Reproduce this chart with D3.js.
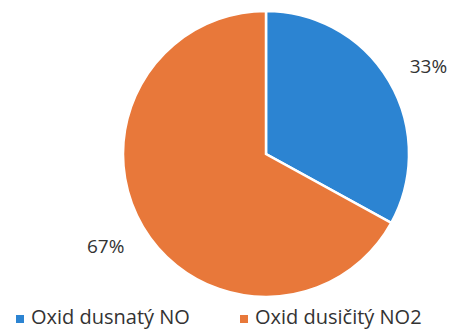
<!DOCTYPE html>
<html>
<head>
<meta charset="utf-8">
<script src="https://cdn.jsdelivr.net/npm/d3@7"></script>
<style>
  body { margin: 0; background: #fff; }
  text { font-family: "Open Sans", sans-serif; fill: #333; }
</style>
</head>
<body>
<svg id="chart" width="449" height="333"></svg>
<script>
const categories = ["Oxid dusnatý NO", "Oxid dusičitý NO2"];
const values = [33, 67];
const labels = ["33%", "67%"];
const colors = ["#2c84d2", "#e8783a"];

const svg = d3.select("#chart");
const cx = 266, cy = 154, radius = 143;

const pie = d3.pie().sort(null).value(d => d.value);
const arc = d3.arc().innerRadius(0).outerRadius(radius);
const labelArc = d3.arc().innerRadius(184).outerRadius(184);

const data = categories.map((c, i) => ({ name: c, value: values[i], label: labels[i], color: colors[i] }));
const arcs = pie(data);

const g = svg.append("g").attr("transform", `translate(${cx},${cy})`);

g.selectAll("path")
    .data(arcs)
    .enter()
    .append("path")
    .attr("d", arc)
    .attr("fill", d => d.data.color)
    .attr("stroke", "white")
    .attr("stroke-width", 2.5);

// percentage labels outside the slices
g.selectAll("text.lbl")
    .data(arcs)
    .enter()
    .append("text")
    .attr("class", "lbl")
    .attr("transform", (d, i) => {
        const p = labelArc.centroid(d);
        return `translate(${p[0] + (i === 0 ? 4 : -2)},${p[1] + (i === 0 ? 8 : 0)})`;
    })
    .attr("text-anchor", "middle")
    .attr("dominant-baseline", "middle")
    .style("font-size", "19px")
    .text(d => d.data.label);

// legend
const legendX = [16, 240];
const legend = svg.selectAll("g.legend")
    .data(data)
    .enter()
    .append("g")
    .attr("class", "legend")
    .attr("transform", (d, i) => `translate(${legendX[i]},319)`);

legend.append("rect")
    .attr("x", 0).attr("y", -4)
    .attr("width", 8).attr("height", 8)
    .attr("fill", d => d.color);

legend.append("text")
    .attr("x", 15)
    .attr("y", 0)
    .attr("dominant-baseline", "middle")
    .style("font-size", "20px")
    .text(d => d.name);
</script>
</body>
</html>
